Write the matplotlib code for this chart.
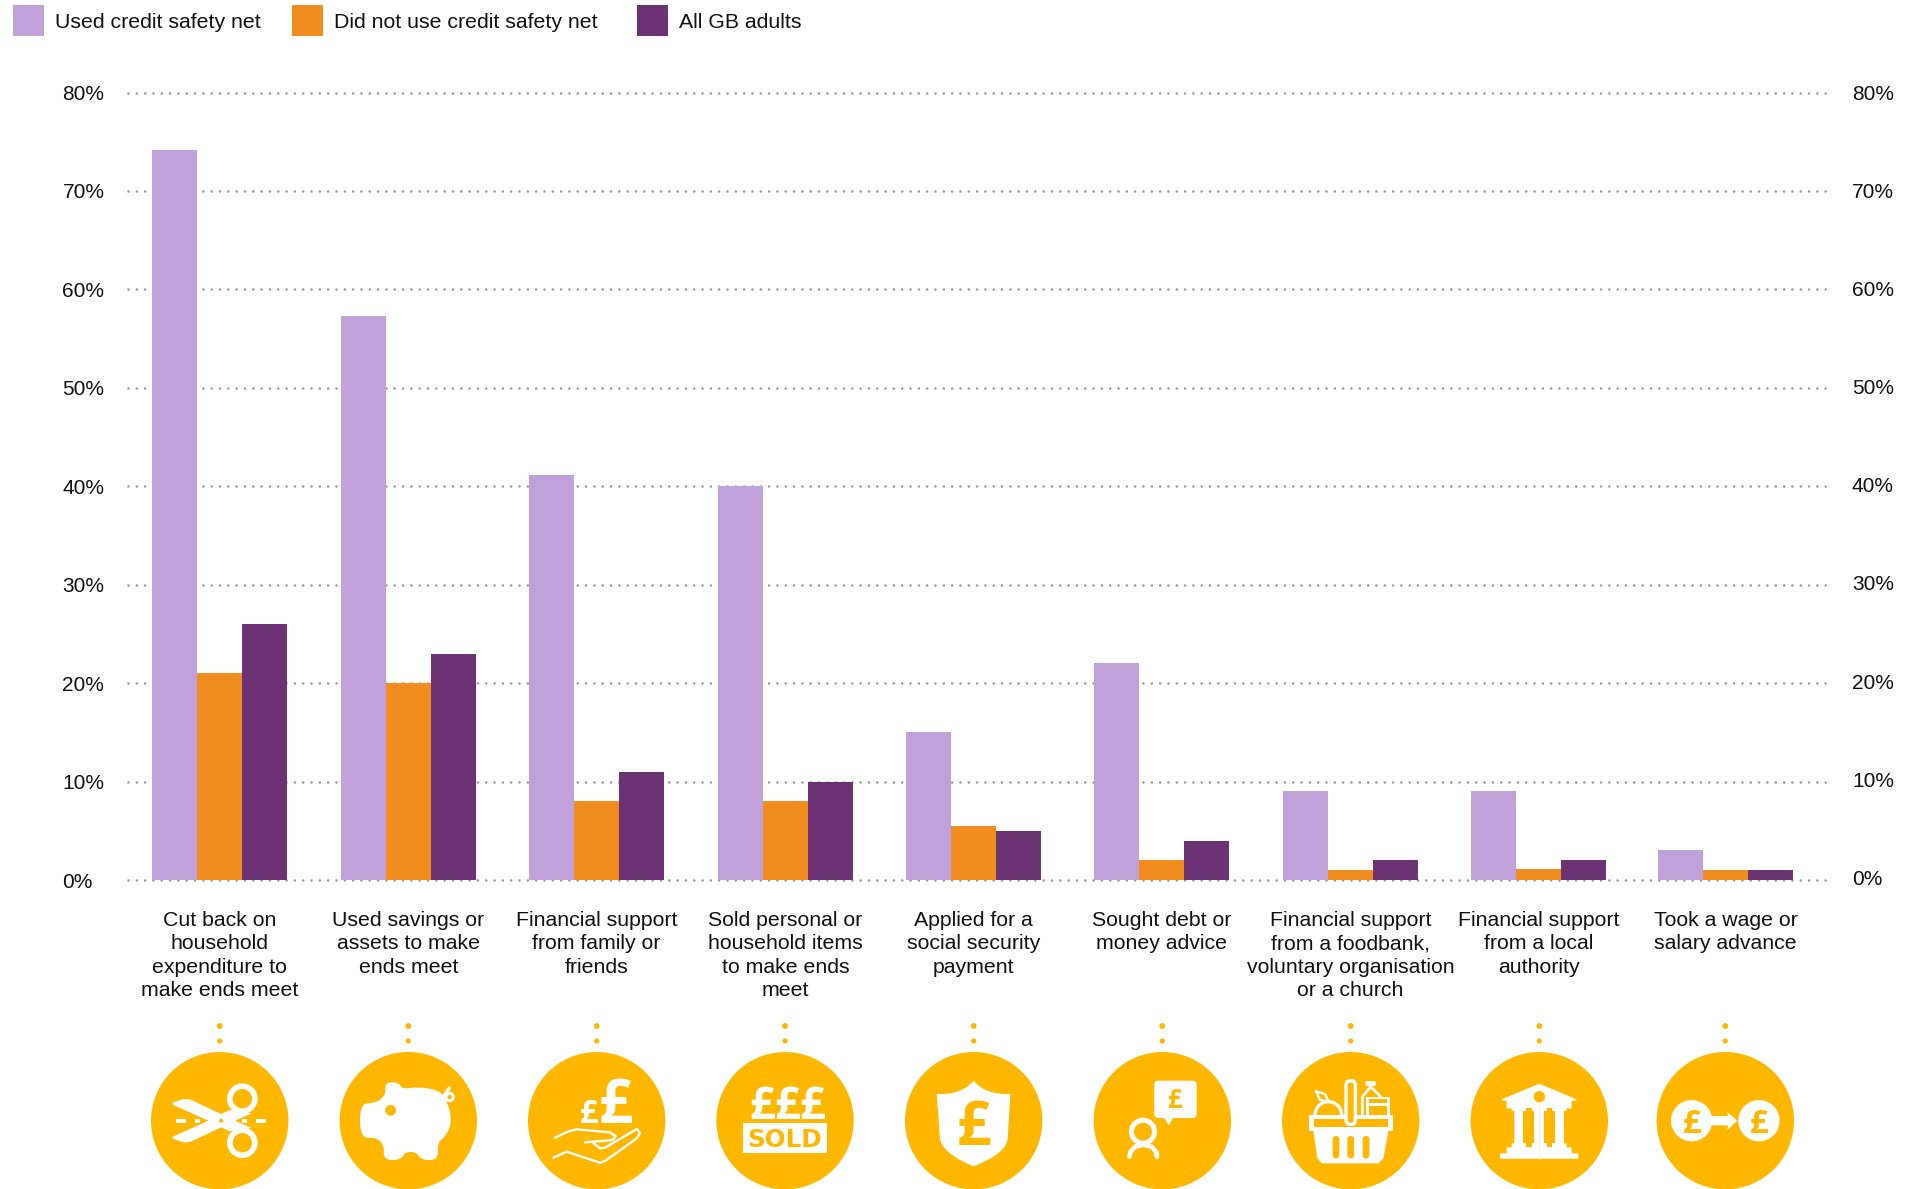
import matplotlib
matplotlib.use("Agg")
import matplotlib.pyplot as plt
from matplotlib.patches import Circle, Rectangle, Polygon, PathPatch, FancyBboxPatch, Wedge
from matplotlib.path import Path
from matplotlib.transforms import Affine2D

# ---------------------------------------------------------------- data
categories = [
    "Cut back on\nhousehold\nexpenditure to\nmake ends meet",
    "Used savings or\nassets to make\nends meet",
    "Financial support\nfrom family or\nfriends",
    "Sold personal or\nhousehold items\nto make ends\nmeet",
    "Applied for a\nsocial security\npayment",
    "Sought debt or\nmoney advice",
    "Financial support\nfrom a foodbank,\nvoluntary organisation\nor a church",
    "Financial support\nfrom a local\nauthority",
    "Took a wage or\nsalary advance",
]
used_safety_net = [74.2, 57.3, 41.1, 40, 15, 22, 9, 9, 3]
no_safety_net = [21, 20, 8, 8, 5.5, 2, 1, 1.1, 1]
all_gb_adults = [26, 23, 11, 10, 5, 4, 2, 2, 1]
series_names = ["Used credit safety net", "Did not use credit safety net", "All GB adults"]
y_ticks = [0, 10, 20, 30, 40, 50, 60, 70, 80]

# ---------------------------------------------------------------- style
LILAC, ORANGE, PURPLE = "#C1A1D9", "#F18C1E", "#6B3374"
GOLD, WHITE, INK = "#FFB700", "white", "#111111"
FONT = "Liberation Sans"
TEXT_PT = 15.35
TICK_PT = 15.0

W, H = 1915, 1189
group_x = [219.5, 408.5, 596.5, 785.5, 973.5, 1161.5, 1350.5, 1538.5, 1725.5]
icon_x = [219.7, 408.3, 596.7, 785.0, 973.7, 1162.3, 1350.7, 1539.3, 1725.3]
ICON_Y = 1120.7
BAR_W = 45

plt.rcParams["font.family"] = [FONT, "DejaVu Sans"]
plt.rcParams["lines.scale_dashes"] = False

fig = plt.figure(figsize=(W / 100, H / 100), dpi=100, facecolor="white")

# ---------------------------------------------------------------- bars and axes
left, right, top, bottom = 128, 1830, 92.5, 880
ax = fig.add_axes([left / W, 1 - bottom / H, (right - left) / W, (bottom - top) / H])
ax.set_xlim(left, right)
ax.set_ylim(0, 80)
for offset, values, color in zip((-BAR_W, 0, BAR_W),
                                 (used_safety_net, no_safety_net, all_gb_adults),
                                 (LILAC, ORANGE, PURPLE)):
    ax.bar([x + offset for x in group_x], values, width=BAR_W, color=color,
           linewidth=0, zorder=3)

for side in ax.spines.values():
    side.set_visible(False)
ax.set_axisbelow(True)
ax.set_yticks(y_ticks, [f"{v}%" for v in y_ticks])
ax.yaxis.grid(True, color="#9A9A9A", linewidth=1.9, linestyle=(0, (0.01, 5.98)))
for gridline in ax.get_ygridlines():
    gridline.set_dash_capstyle("round")
    gridline.set_clip_on(False)
ax.tick_params(axis="y", length=0, pad=47.2, labelsize=TICK_PT, labelcolor=INK)
for label in ax.get_yticklabels():
    label.set_ha("left")

ax.set_xticks(group_x, categories)
ax.tick_params(axis="x", length=0, pad=22, labelsize=TEXT_PT, labelcolor=INK)
for label in ax.get_xticklabels():
    label.set_linespacing(1.3)
    label.set_ha("center")

# The right-hand scale sits a touch higher than the left one.
ax_r = ax.twinx()
ax_r.set_ylim(-0.28, 79.72)
ax_r.set_yticks(y_ticks, [f"{v}%" for v in y_ticks])
ax_r.tick_params(axis="y", length=0, pad=15.8, labelsize=TICK_PT, labelcolor=INK)
for side in ax_r.spines.values():
    side.set_visible(False)

# ---------------------------------------------------------------- pixel-space overlay
ov = fig.add_axes([0, 0, 1, 1], facecolor="none")
ov.set_xlim(0, W)
ov.set_ylim(H, 0)
ov.axis("off")

for name, color, sx, tx in zip(series_names, (LILAC, ORANGE, PURPLE), (13, 292, 637), (55, 334, 679)):
    ov.add_patch(Rectangle((sx, 5), 31, 31, color=color, linewidth=0))
    ov.text(tx, 21, name, fontsize=TEXT_PT, color=INK, ha="left", va="center_baseline")


# ---------------------------------------------------------------- icon helpers
def grid(origin_x, origin_y, cx):
    """Transform from a 3x drawing grid, centred on (origin_x, origin_y), to the icon at cx."""
    return Affine2D().translate(-origin_x, -origin_y).scale(1 / 3).translate(cx, ICON_Y) + ov.transData


def pts(units):
    return units / 3 * 0.72


def disc(tr, x, y, r, color=WHITE):
    ov.add_patch(Circle((x, y), r, transform=tr, color=color, linewidth=0))


def ring(tr, x, y, r_out, r_in, fill=GOLD):
    disc(tr, x, y, r_out)
    disc(tr, x, y, r_in, fill)


def poly(tr, points, color=WHITE):
    ov.add_patch(Polygon(points, closed=True, transform=tr, facecolor=color, edgecolor="none", linewidth=0))


def box(tr, x0, y0, x1, y1, color=WHITE):
    ov.add_patch(Rectangle((x0, y0), x1 - x0, y1 - y0, transform=tr, color=color, linewidth=0))


def rounded(tr, x0, y0, x1, y1, r, color=WHITE):
    ov.add_patch(FancyBboxPatch((x0 + r, y0 + r), x1 - x0 - 2 * r, y1 - y0 - 2 * r,
                                boxstyle=f"round,pad={r},rounding_size={r}",
                                transform=tr, facecolor=color, edgecolor="none", linewidth=0,
                                mutation_aspect=1))


def stroke(tr, points, width=7, color=WHITE):
    xs, ys = zip(*points)
    ov.plot(xs, ys, transform=tr, color=color, linewidth=pts(width),
            solid_capstyle="round", solid_joinstyle="round")


def blob(tr, points, color=WHITE):
    """Closed smooth outline: the points act as quadratic control points."""
    n = len(points)
    mid = lambda a, b: ((a[0] + b[0]) / 2, (a[1] + b[1]) / 2)
    verts = [mid(points[-1], points[0])]
    codes = [Path.MOVETO]
    for i in range(n):
        verts += [points[i], mid(points[i], points[(i + 1) % n])]
        codes += [Path.CURVE3, Path.CURVE3]
    ov.add_patch(PathPatch(Path(verts, codes), transform=tr, facecolor=color, edgecolor="none", linewidth=0))


def pound(tr, x, base_y, height, color=WHITE):
    size = pts(height / 0.714)
    ov.text(x, base_y, "£", transform=tr, fontsize=size, color=color, ha="center", va="baseline",
            family="Open Sans", fontweight="bold")


# ---------------------------------------------------------------- the nine icons
def scissors(tr):
    poly(tr, [(68, 158), (100, 147), (120, 148), (213, 192), (240, 180), (305, 190), (255, 212),
              (305, 234), (240, 244), (213, 232), (120, 276), (100, 277), (68, 266), (68, 260),
              (175, 212), (68, 164)])
    ring(tr, 277, 146, 46, 29)
    ring(tr, 277, 278, 46, 29)
    disc(tr, 213, 212, 6, GOLD)
    for x0, x1 in ((78, 108), (135, 150), (275, 291), (318, 348)):
        box(tr, x0, 206, x1, 218)


def piggy(tr):
    blob(tr, [(630, 160), (675, 160), (708, 135), (704, 97), (747, 97), (757, 118), (800, 110),
              (868, 120), (893, 155), (906, 215), (888, 258), (862, 278), (866, 330), (813, 330),
              (800, 306), (765, 306), (752, 330), (700, 330), (703, 285), (678, 262), (630, 264)])
    disc(tr, 722, 181, 16, GOLD)
    stroke(tr, [(860, 150), (880, 140), (898, 114)], 10)
    ov.add_patch(Circle((899, 141), 11, transform=tr, facecolor="none", edgecolor=WHITE, linewidth=pts(9)))


def hand(tr):
    pound(tr, 272, 219, 128)
    pound(tr, 193, 219, 70)
    stroke(tr, [(90, 263), (130, 244), (155, 238), (255, 247), (272, 258), (262, 270), (180, 277)])
    stroke(tr, [(205, 279), (225, 295), (240, 293), (335, 237), (345, 248), (335, 265), (240, 333),
                (225, 338), (125, 305), (85, 323)])


def sold(tr):
    for x in (712, 787, 860):
        pound(tr, x, 207, 97)
    box(tr, 655, 220, 905, 308)
    ov.text(780, 292, "SOLD", transform=tr, fontsize=pts(74), color=GOLD, ha="center", va="baseline",
            family="DejaVu Sans", fontweight="bold")


def shield(tr):
    verts = [(110, 132), (185, 135), (221, 92), (255, 135), (331, 132), (323, 265), (320, 310),
             (221, 349), (125, 310), (120, 265), (110, 132)]
    codes = [Path.MOVETO, Path.CURVE3, Path.CURVE3, Path.CURVE3, Path.CURVE3, Path.LINETO,
             Path.CURVE3, Path.CURVE3, Path.CURVE3, Path.CURVE3, Path.CLOSEPOLY]
    ov.add_patch(PathPatch(Path(verts, codes), transform=tr, facecolor=WHITE, edgecolor="none", linewidth=0))
    pound(tr, 221, 285, 130, GOLD)


def advice(tr):
    rounded(tr, 763, 92, 890, 204, 12)
    poly(tr, [(790, 200), (806, 226), (822, 200)])
    pound(tr, 825, 174, 55, GOLD)
    ring(tr, 729, 245, 42, 27)
    stroke(tr, [(688, 320), (692, 305), (705, 290), (730, 284), (755, 290), (768, 305), (771, 320)], 14)


def basket(tr):
    poly(tr, [(100, 243), (325, 243), (310, 325), (295, 340), (125, 340), (112, 325)])
    box(tr, 88, 195, 338, 243)
    box(tr, 102, 208, 324, 232, GOLD)
    for x in (158, 202, 248):
        rounded(tr, x, 258, x + 20, 325, 9, GOLD)
    # Fruit and leaf
    ov.add_patch(Wedge((145, 195), 45, 180, 360, transform=tr, facecolor=WHITE, linewidth=0))
    ov.add_patch(Wedge((145, 195), 35, 180, 360, transform=tr, facecolor=GOLD, linewidth=0))
    stroke(tr, [(108, 124), (135, 132), (146, 155), (120, 150), (108, 124)], 7)
    # Bottle and carton
    stroke(tr, [(247, 195), (247, 140), (272, 110), (302, 140)], 8)
    rounded(tr, 256, 93, 288, 108, 6)
    box(tr, 258, 140, 330, 195)
    box(tr, 267, 148, 320, 160, GOLD)
    box(tr, 267, 168, 320, 195, GOLD)
    # Baguette across the rim
    rounded(tr, 193, 87, 231, 228, 18)
    rounded(tr, 203, 97, 221, 218, 9, GOLD)


def bank(tr):
    poly(tr, [(665, 148), (778, 101), (890, 148), (888, 152), (875, 152), (875, 175), (860, 175),
              (860, 182), (852, 182), (852, 280), (860, 280), (860, 292), (875, 292), (875, 310),
              (895, 310), (895, 326), (660, 326), (660, 310), (680, 310), (680, 292), (695, 292),
              (695, 280), (703, 280), (703, 182), (695, 182), (695, 175), (680, 175), (680, 152),
              (668, 152)])
    for x0 in (730, 792):
        poly(tr, [(x0 + 8, 174), (x0 + 25, 174), (x0 + 25, 182), (x0 + 33, 182), (x0 + 33, 278),
                  (x0 + 25, 278), (x0 + 25, 292), (x0 + 8, 292), (x0 + 8, 278), (x0, 278),
                  (x0, 182), (x0 + 8, 182)], GOLD)
    disc(tr, 778, 140, 17, GOLD)
    ov.plot([778, 778], [160, 326], transform=tr, color="#FBE7BD", linewidth=0.5)


def transfer(tr):
    disc(tr, 155, 212, 62)
    disc(tr, 357, 212, 62)
    poly(tr, [(210, 198), (264, 198), (262, 186), (292, 212), (262, 240), (264, 226), (210, 226)])
    pound(tr, 155, 248, 70, GOLD)
    pound(tr, 357, 248, 70, GOLD)


icons = [(scissors, 209), (piggy, 775), (hand, 215), (sold, 780), (shield, 221),
         (advice, 787), (basket, 212), (bank, 778), (transfer, 256)]

for cx, (draw, origin_x) in zip(icon_x, icons):
    ov.add_patch(Circle((cx, ICON_Y), 68.7, color=GOLD, linewidth=0))
    ov.add_patch(Circle((cx, 1026), 2.9, color=GOLD, linewidth=0))
    ov.add_patch(Circle((cx, 1041), 2.6, color=GOLD, linewidth=0))
    draw(grid(origin_x, 212, cx))

ov.set_xlim(0, W)
ov.set_ylim(H, 0)

fig.savefig("out.png", dpi=100, facecolor="white")
